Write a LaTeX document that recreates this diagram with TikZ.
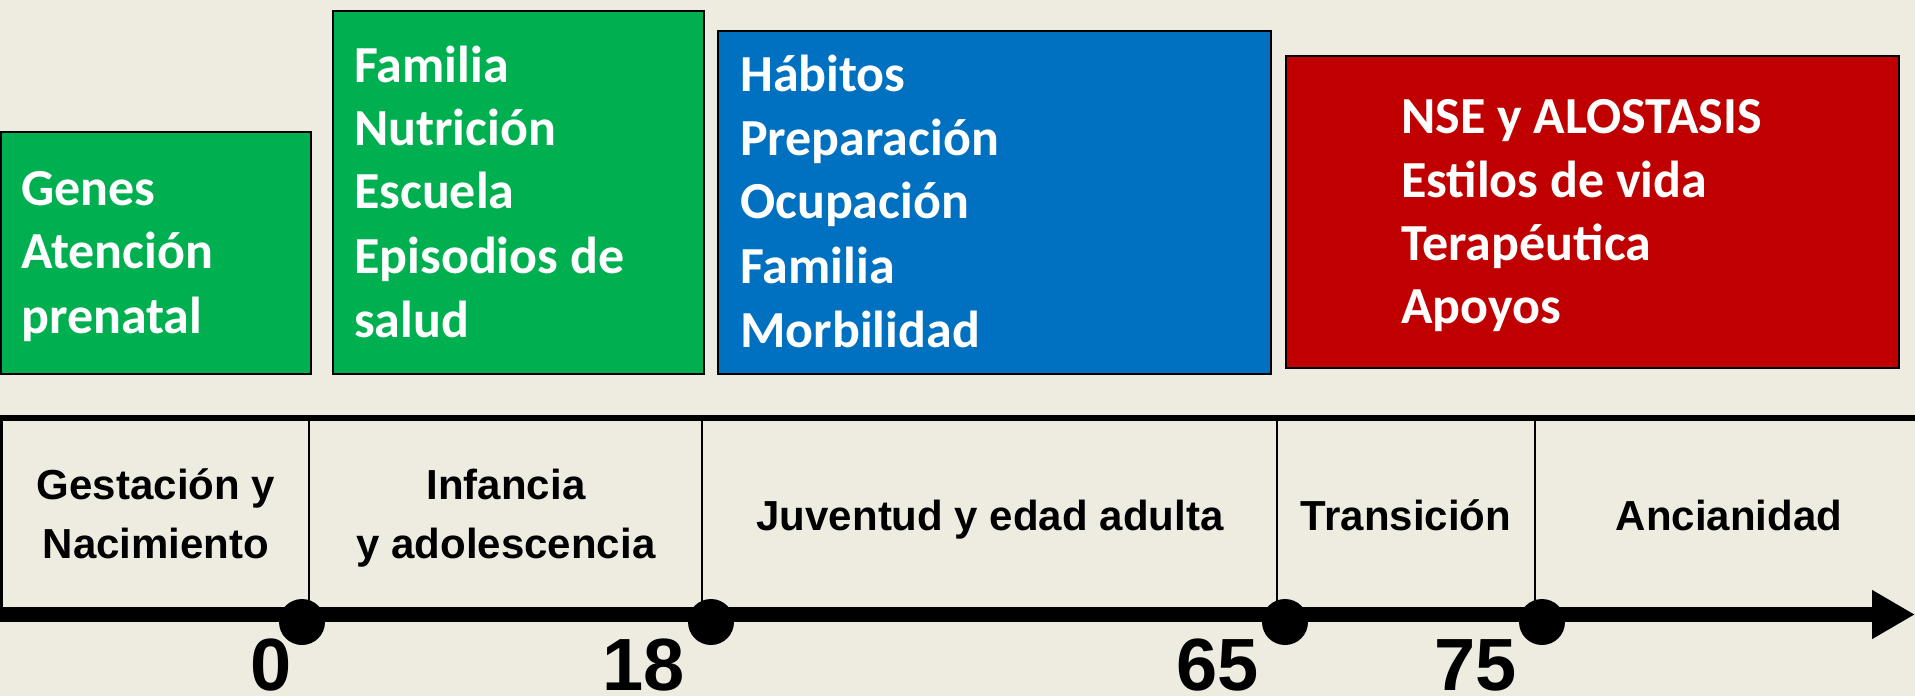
\documentclass[tikz,border=0pt]{standalone}
\usepackage{fontspec}
\usetikzlibrary{arrows.meta}
\newfontfamily\boxfont{Carlito}
\newfontfamily\stagefont{Liberation Sans}
\definecolor{bgtan}{HTML}{EEECE1}
\definecolor{pgreen}{HTML}{00B050}
\definecolor{pblue}{HTML}{0070C0}
\definecolor{pred}{HTML}{C00000}
\tikzset{
  panel/.style={draw=black, line width=2pt, inner sep=0pt, anchor=north west},
  boxtext/.style={text=white, font=\boxfont\bfseries\fontsize{52}{62}\selectfont, anchor=base west, inner sep=0pt},
  stagetext/.style={font=\stagefont\bfseries\fontsize{42}{50}\selectfont, anchor=base, inner sep=0pt},
  numtext/.style={font=\stagefont\bfseries\fontsize{74}{80}\selectfont, anchor=base east, inner sep=0pt},
  divider/.style={draw=black, line width=2pt},
  dot/.style={circle, fill=black, minimum size=46pt, inner sep=0pt},
}
\begin{document}
\begin{tikzpicture}[x=1pt,y=-1pt]
\fill[bgtan] (0,0) rectangle (1915,696);
\useasboundingbox (0,0) rectangle (1915,696);

% panels
\node[panel, fill=pgreen, minimum width=310pt, minimum height=242pt] (b1) at (0,131) {};
\node[panel, fill=pgreen, minimum width=371pt, minimum height=363pt] (b2) at (332,10) {};
\node[panel, fill=pblue, minimum width=553pt, minimum height=343pt] (b3) at (717,30) {};
\node[panel, fill=pred, minimum width=613pt, minimum height=312pt] (b4) at (1285,55) {};

% panel texts
\node[boxtext] (t1a) at (21,205) {Genes};
\node[boxtext] (t1b) at (21,268) {Atención};
\node[boxtext] (t1c) at (21,333) {prenatal};

\node[boxtext] (t2a) at (354,82) {Familia};
\node[boxtext] (t2b) at (354,145) {Nutrición};
\node[boxtext] (t2c) at (354,208) {Escuela};
\node[boxtext] (t2d) at (354,273) {Episodios de};
\node[boxtext] (t2e) at (354,337) {salud};

\node[boxtext] (t3a) at (740,91) {Hábitos};
\node[boxtext] (t3b) at (740,155) {Preparación};
\node[boxtext] (t3c) at (740,218) {Ocupación};
\node[boxtext] (t3d) at (740,283) {Familia};
\node[boxtext] (t3e) at (740,347) {Morbilidad};

\node[boxtext] (t4a) at (1401,133) {NSE y ALOSTASIS};
\node[boxtext] (t4b) at (1401,197) {Estilos de vida};
\node[boxtext] (t4c) at (1401,260) {Terapéutica};
\node[boxtext] (t4d) at (1401,323) {Apoyos};

% timeline frame
\coordinate (topL) at (0,418);
\coordinate (topR) at (1915,418);
\draw[line width=6pt] (topL) -- (topR);
\coordinate (e0t) at (1.5,418); \coordinate (e0b) at (1.5,614);
\draw[line width=3pt] (e0t) -- (e0b);
\foreach \n/\x in {d1/309, d2/702, d3/1277, d4/1535}{
  \coordinate (\n t) at (\x,418);
  \coordinate (\n b) at (\x,614);
  \draw[divider] (\n t) -- (\n b);
}

% axis
\coordinate (axS) at (0,614.5);
\coordinate (axE) at (1915,614.5);
\draw[line width=15pt, -{Triangle[length=43pt,width=46pt]}] (axS) -- (axE);

% dots
\node[dot] (p0) at (302,622) {};
\node[dot] (p18) at (711,622) {};
\node[dot] (p65) at (1285,622) {};
\node[dot] (p75) at (1542,622) {};

% stage labels
\node[stagetext] (s1a) at (156,499) {Gestación y};
\node[stagetext] (s1b) at (156,558) {Nacimiento};
\node[stagetext] (s2a) at (506,499) {Infancia};
\node[stagetext] (s2b) at (506,558) {y adolescencia};
\node[stagetext] (s3) at (990,530) {Juventud y edad adulta};
\node[stagetext] (s4) at (1406,530) {Transición};
\node[stagetext] (s5) at (1729,530) {Ancianidad};

% ages
\node[numtext] (n0) at (292,690) {0};
\node[numtext] (n18) at (685,690) {18};
\node[numtext] (n65) at (1259,690) {65};
\node[numtext] (n75) at (1517,690) {75};
\end{tikzpicture}
\end{document}
